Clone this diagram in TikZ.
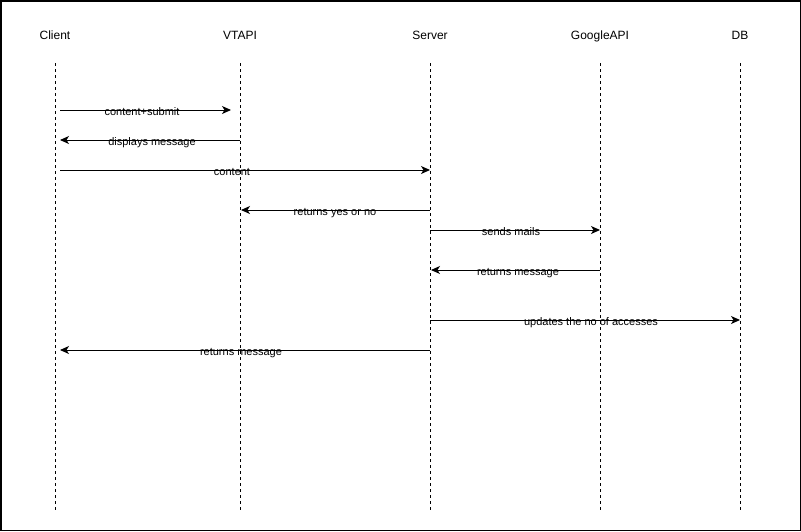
\documentclass[tikz,border=0pt]{standalone}
\usepackage{fontspec}
\setmainfont{Liberation Sans}
\usetikzlibrary{arrows.meta}
\begin{document}
\begin{tikzpicture}[x=1pt,y=-1pt,
  head/.style={font=\fontsize{12}{14}\selectfont,inner sep=0pt,anchor=base},
  lifeline/.style={line width=1pt,dash pattern=on 3pt off 3pt},
  msg/.style={line width=1pt,-{Stealth[length=9pt,width=8pt,inset=2.5pt]}},
  lbl/.style={font=\fontsize{11}{13}\selectfont,inner sep=0pt,anchor=base}]
\useasboundingbox (0,0) rectangle (801,531);
\draw[line width=1.5pt] (0.75,0.75) rectangle (800.25,530.25);
% headers
\node[head] (hC) at (55,39.5) {Client};
\node[head] (hV) at (240,39.5) {VTAPI};
\node[head] (hS) at (430,39.5) {Server};
\node[head] (hG) at (600,39.5) {GoogleAPI};
\node[head] (hD) at (740,39.5) {DB};
% lifelines
\foreach \n/\x in {C/55,V/240,S/430,G/600,D/740}{
  \coordinate (t\n) at (\x,63);
  \coordinate (b\n) at (\x,511);
  \draw[lifeline] (t\n) -- (b\n);
}
% message end points
\coordinate (m1a) at (60,110);  \coordinate (m1b) at (231,110);
\coordinate (m2a) at (240,140); \coordinate (m2b) at (60,140);
\coordinate (m3a) at (60,170);  \coordinate (m3b) at (430,170);
\coordinate (m4a) at (430,210); \coordinate (m4b) at (241,210);
\coordinate (m5a) at (430,230); \coordinate (m5b) at (600,230);
\coordinate (m6a) at (600,270); \coordinate (m6b) at (431,270);
\coordinate (m7a) at (430,320); \coordinate (m7b) at (740,320);
\coordinate (m8a) at (430,350); \coordinate (m8b) at (60,350);
\draw[msg] (m1a) -- (m1b);
\draw[msg] (m2a) -- (m2b);
\draw[msg] (m3a) -- (m3b);
\draw[msg] (m4a) -- (m4b);
\draw[msg] (m5a) -- (m5b);
\draw[msg] (m6a) -- (m6b);
\draw[msg] (m7a) -- (m7b);
\draw[msg] (m8a) -- (m8b);
% labels
\node[lbl] (l1) at (142,115) {content+submit};
\node[lbl] (l2) at (152,145) {displays message};
\node[lbl] (l3) at (232,175) {content};
\node[lbl] (l4) at (335,215) {returns yes or no};
\node[lbl] (l5) at (511,235) {sends mails};
\node[lbl] (l6) at (518,275) {returns message};
\node[lbl] (l7) at (591,325) {updates the no of accesses};
\node[lbl] (l8) at (241,355) {returns message};
\end{tikzpicture}
\end{document}
